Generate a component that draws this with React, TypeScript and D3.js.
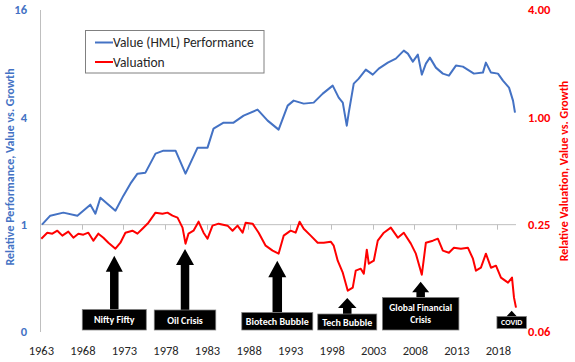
import React from "react";
import * as d3 from "d3";

// ---- Data (decimal years; Jul 1963 = 1963.5) ----
const PERF_DATES = [1963.70,1964.70,1966.27,1967.96,1969.52,1970.13,1970.73,1972.54,1973.50,1974.34,1975.19,1976.15,1977.36,1978.32,1979.77,1980.97,1982.42,1983.62,1984.34,1985.55,1986.75,1987.96,1989.64,1990.85,1992.17,1993.26,1993.98,1995.19,1996.39,1997.48,1998.68,1999.40,1999.89,2000.37,2000.61,2001.21,2001.81,2002.66,2003.50,2004.22,2005.31,2006.27,2007.23,2007.72,2008.32,2008.92,2009.40,2009.89,2010.37,2011.09,2011.93,2012.66,2013.50,2014.34,2015.67,2016.75,2017.11,2017.72,2018.56,2019.16,2019.89,2020.37,2020.61];
const PERF_VALUES = [1.000,1.123,1.168,1.123,1.295,1.153,1.417,1.198,1.455,1.698,1.933,1.958,2.503,2.601,2.601,1.933,2.704,2.704,3.457,3.735,3.735,4.089,4.419,3.833,3.412,4.653,4.964,4.775,4.837,5.433,6.025,5.160,4.837,3.593,4.250,6.183,6.595,7.408,6.945,7.505,8.109,8.539,9.470,9.110,8.215,8.993,6.945,8.005,8.650,7.602,7.035,6.856,7.802,7.701,7.035,7.127,8.109,7.127,7.035,6.428,5.871,4.964,4.250];

const VAL_DATES = [1963.62,1964.34,1964.95,1965.55,1966.15,1966.87,1967.48,1968.08,1968.68,1969.28,1969.89,1970.49,1971.09,1971.69,1972.54,1973.14,1973.74,1974.58,1975.19,1975.79,1976.51,1977.36,1978.20,1978.80,1979.40,1980.01,1980.61,1980.97,1981.33,1981.93,1982.54,1983.14,1983.62,1984.22,1984.95,1986.03,1986.63,1987.23,1987.84,1988.20,1989.04,1989.77,1990.61,1991.45,1992.17,1992.78,1993.62,1994.22,1994.70,1995.19,1996.03,1996.87,1997.60,1998.44,1998.80,1999.28,1999.89,2000.49,2001.09,2001.45,2002.05,2002.42,2002.78,2003.02,2003.62,2004.10,2004.83,2005.67,2006.51,2007.23,2008.08,2008.68,2009.40,2009.89,2010.73,2011.33,2011.93,2012.66,2013.26,2014.10,2014.94,2015.55,2015.91,2016.51,2017.11,2017.72,2018.32,2018.92,2019.77,2020.25,2020.49,2020.73];
const VAL_VALUES = [0.2086,0.2254,0.2226,0.2313,0.2169,0.2284,0.2113,0.2226,0.2197,0.2254,0.2033,0.2226,0.2113,0.1981,0.1833,0.1981,0.2254,0.2313,0.2226,0.2374,0.2565,0.2920,0.2882,0.2920,0.2808,0.2737,0.2405,0.1956,0.2226,0.2313,0.2599,0.2254,0.2086,0.2468,0.2533,0.2468,0.2313,0.2468,0.2254,0.2565,0.2533,0.2254,0.1906,0.1787,0.1719,0.2169,0.2313,0.2254,0.2599,0.2374,0.2169,0.1981,0.1981,0.2007,0.1906,0.1570,0.1345,0.1066,0.1108,0.1380,0.1416,0.1328,0.1810,0.1511,0.1570,0.2033,0.2254,0.2405,0.2113,0.2254,0.1956,0.1719,0.1310,0.1981,0.2033,0.2086,0.1787,0.1741,0.1857,0.1833,0.1857,0.1611,0.1380,0.1434,0.1719,0.1434,0.1472,0.1261,0.1182,0.1261,0.0974,0.0856];

const X_TICK_YEARS = [1963,1968,1973,1978,1983,1988,1993,1998,2003,2008,2013,2018];
const LEFT_TICKS = [0.25, 1, 4, 16];
const RIGHT_TICKS = [0.0625, 0.25, 1, 4];

const SERIES_NAMES = ["Value (HML) Performance", "Valuation"];
const LEFT_TITLE = "Relative Performance, Value vs. Growth";
const RIGHT_TITLE = "Relative Valuation, Value vs. Growth";

// annotations: label lines, date pointed at, valuation level of arrow tip
const ANN_LABELS = [["Nifty Fifty"], ["Oil Crisis"], ["Biotech Bubble"], ["Tech Bubble"], ["Global Financial", "Crisis"], ["COVID"]];
const ANN_DATES = [1972.40, 1980.91, 1992.01, 2000.43, 2009.26, 2020.21];
const ANN_TIPS = [0.1675, 0.1826, 0.1570, 0.0970, 0.1197, 0.0823];
// layout for annotation shapes (box width/top/height, head height/width, shaft width, font size)
const ANN_LAYOUT = [
  { w: 64, top: 309.5, h: 20.5, hh: 16, hw: 17, sw: 8.5, fs: 10 },
  { w: 61.5, top: 310, h: 20, hh: 16, hw: 18, sw: 8.5, fs: 10 },
  { w: 71, top: 312.5, h: 17.5, hh: 16.5, hw: 18, sw: 9.5, fs: 10 },
  { w: 59, top: 314, h: 16, hh: 10, hw: 18.5, sw: 8.5, fs: 10 },
  { w: 76.5, top: 297.5, h: 32.5, hh: 10.5, hw: 17, sw: 8.5, fs: 9.5 },
  { w: 29.5, top: 316.5, h: 12, hh: 6, hw: 11, sw: 4.5, fs: 8 },
];

const BLUE = "#4472C4";
const RED = "#FF0000";
const FONT = "Carlito, Lato, 'Liberation Sans', sans-serif";

export default function App() {
  const W = 575, H = 362;
  const x = d3.scaleLinear().domain([1963.5, 2020.73]).range([40.3, 516]);
  const yL = d3.scaleLog().base(4).domain([0.25, 16]).range([332, 10]);
  const yR = d3.scaleLog().base(4).domain([0.0625, 4]).range([332, 10]);

  const perf = PERF_DATES.map((d, i) => [d, PERF_VALUES[i]] as [number, number]);
  const val = VAL_DATES.map((d, i) => [d, VAL_VALUES[i]] as [number, number]);
  const perfLine = d3.line<[number, number]>().x(d => x(d[0])).y(d => yL(d[1]));
  const valLine = d3.line<[number, number]>().x(d => x(d[0])).y(d => yR(d[1]));

  const axisY = yL(1);
  const fmtL = d3.format(".0f");
  const fmtR = d3.format(".2f");

  return (
    <svg width={W} height={H} style={{ position: "absolute", left: 0, top: 0, background: "#fff" }} fontFamily={FONT}>
      <rect x={0} y={0} width={W} height={H} fill="#fff" />
      {/* vertical axis line */}
      <line x1={40.5} x2={40.5} y1={yL(16)} y2={yL(0.25)} stroke="#BFBFBF" strokeWidth={1} />
      {/* horizontal axis */}
      <line x1={40} x2={516} y1={axisY} y2={axisY} stroke="#BFBFBF" strokeWidth={1} />
      {X_TICK_YEARS.slice(1).map(yr => (
        <line key={yr} x1={Math.round(x(yr + 0.5)) + 0.5} x2={Math.round(x(yr + 0.5)) + 0.5} y1={axisY} y2={axisY + 5} stroke="#BFBFBF" strokeWidth={1} />
      ))}
      {X_TICK_YEARS.map(yr => (
        <text key={yr} x={x(yr + 0.5) + 1} y={355} textAnchor="middle" fontSize={12.5} fill="#262626">{yr}</text>
      ))}
      {/* left ticks */}
      {LEFT_TICKS.map(t => (
        <text key={t} x={27} y={yL(t)} dy="0.35em" textAnchor="end" fontSize={12.5} fontWeight="bold" fill={BLUE}>{fmtL(t)}</text>
      ))}
      {RIGHT_TICKS.map(t => (
        <text key={t} x={528} y={yR(t)} dy="0.35em" textAnchor="start" fontSize={12.5} fontWeight="bold" fill={RED}>{fmtR(t)}</text>
      ))}
      <text transform={`translate(14,167) rotate(-90)`} textAnchor="middle" fontSize={12} fill={BLUE} fontWeight="600">{LEFT_TITLE}</text>
      <text transform={`translate(568,171) rotate(-90)`} textAnchor="middle" fontSize={12} fill={RED} fontWeight="600">{RIGHT_TITLE}</text>

      {/* series */}
      <path d={perfLine(perf) || ""} fill="none" stroke={BLUE} strokeWidth={2} strokeLinejoin="round" />
      <path d={valLine(val) || ""} fill="none" stroke={RED} strokeWidth={2} strokeLinejoin="round" />

      {/* annotations */}
      {ANN_LABELS.map((lines, i) => {
        const L = ANN_LAYOUT[i];
        const cx = x(ANN_DATES[i]);
        const tipY = yR(ANN_TIPS[i]);
        const baseY = tipY + L.hh;
        const p = [
          [cx, tipY], [cx + L.hw / 2, baseY], [cx + L.sw / 2, baseY], [cx + L.sw / 2, L.top],
          [cx - L.sw / 2, L.top], [cx - L.sw / 2, baseY], [cx - L.hw / 2, baseY],
        ].map(q => q.join(",")).join(" ");
        const midY = L.top + L.h / 2;
        const lh = L.fs * 1.2;
        return (
          <g key={i}>
            <polygon points={p} fill="#000" />
            <rect x={cx - L.w / 2} y={L.top} width={L.w} height={L.h} fill="#000" stroke="#7F7F7F" strokeWidth={0.75} />
            {lines.map((s, j) => (
              <text key={j} x={cx} y={midY + (j - (lines.length - 1) / 2) * lh} dy="0.35em" textAnchor="middle" fontSize={L.fs} fontWeight="bold" fill="#fff">{s}</text>
            ))}
          </g>
        );
      })}

      {/* legend */}
      <rect x={85.5} y={30.5} width={178.5} height={42.5} fill="#fff" stroke="#808080" strokeWidth={1} />
      {SERIES_NAMES.map((n, i) => (
        <g key={n}>
          <line x1={95} x2={113} y1={42.5 + i * 19.5} y2={42.5 + i * 19.5} stroke={i === 0 ? BLUE : RED} strokeWidth={2} />
          <text x={113} y={42.5 + i * 19.5} dy="0.35em" fontSize={13.5} fill="#262626">{n}</text>
        </g>
      ))}
    </svg>
  );
}
